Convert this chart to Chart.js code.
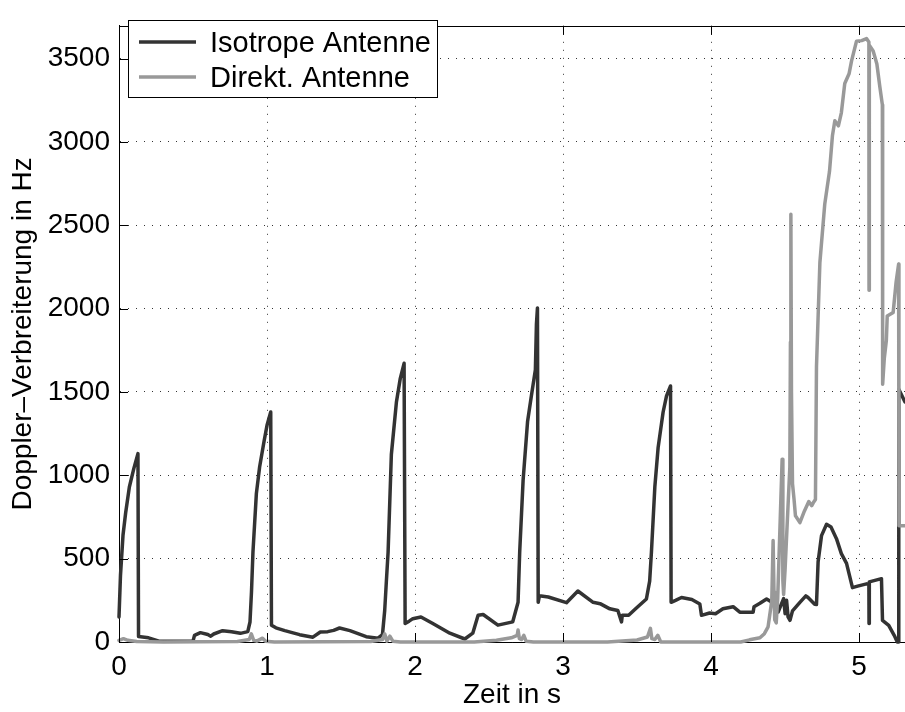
<!DOCTYPE html>
<html>
<head>
<meta charset="utf-8">
<script src="https://cdn.jsdelivr.net/npm/chart.js@4/dist/chart.umd.min.js"></script>
<style>
  html, body { margin: 0; padding: 0; background: #fff; }
  #wrap { width: 905px; height: 712px; }
</style>
</head>
<body>
<div id="wrap"><canvas id="c" width="905" height="712"></canvas></div>
<script>
// ---- data ----
const seriesNames = ['Isotrope Antenne', 'Direkt. Antenne'];
const xTickValues = [0, 1, 2, 3, 4, 5];
const yTickValues = [0, 500, 1000, 1500, 2000, 2500, 3000, 3500];
const xTitle = 'Zeit in s';
const yTitle = 'Doppler\u2013Verbreiterung in Hz';

const isoT = [0, 0.01, 0.027, 0.045, 0.07, 0.1, 0.128, 0.132, 0.2, 0.27, 0.5, 0.51, 0.55, 0.6, 0.62, 0.64, 0.7, 0.76, 0.82, 0.87, 0.885, 0.895, 0.905, 0.928, 0.95, 0.98, 1.0, 1.025, 1.03,
  1.06, 1.12, 1.22, 1.31, 1.36, 1.41, 1.45, 1.49, 1.56, 1.67, 1.75, 1.78, 1.795, 1.806, 1.818, 1.84, 1.874, 1.9, 1.926, 1.933,
  1.96, 1.985, 2.04, 2.12, 2.235, 2.336, 2.39, 2.426, 2.46, 2.56, 2.66, 2.696, 2.707, 2.73, 2.76, 2.786, 2.813, 2.82, 2.827, 2.832,
  2.84, 2.9, 3.023, 3.1, 3.203, 3.25, 3.316, 3.37, 3.395, 3.4, 3.443, 3.49, 3.563, 3.585, 3.597, 3.62, 3.642, 3.676, 3.699, 3.726, 3.73,
  3.76, 3.8, 3.87, 3.924, 3.935, 3.99, 4.03, 4.08, 4.149, 4.194, 4.284, 4.29, 4.33, 4.375, 4.4, 4.42, 4.453, 4.49, 4.5, 4.51, 4.52, 4.533, 4.55, 4.6, 4.64, 4.655, 4.70, 4.712,
  4.723, 4.746, 4.78, 4.81, 4.847, 4.88, 4.915, 4.955, 4.99, 5.05, 5.066, 5.067, 5.069, 5.151, 5.158, 5.2, 5.237, 5.258, 5.266, 5.268, 5.31];
const isoV = [150, 400, 640, 775, 930, 1040, 1130, 33, 25, 5, 5, 40, 56, 45, 35, 48, 68, 62, 52, 62, 120, 300, 540, 890, 1050, 1204, 1300, 1380, 101,
  85, 68, 44, 29, 60, 62, 70, 84, 68, 32, 23, 45, 189, 360, 540, 1125, 1438, 1580, 1672, 111,
  125, 140, 150, 111, 53, 18, 53, 160, 165, 101, 121, 238, 540, 970, 1321, 1477, 1633, 1906, 2004, 238,
  277, 270, 236, 306, 238, 230, 199, 189, 121, 160, 160, 199, 258, 365, 540, 931, 1165, 1380, 1477, 1536, 238,
  250, 267, 255, 228, 160, 174, 170, 199, 212, 179, 179, 212, 232, 258, 245, 225, 180, 260, 170, 250, 150, 130, 187, 238, 277, 267, 226, 225,
  482, 638, 706, 690, 620, 530, 472, 326, 335, 349, 345, 111, 361, 380, 130, 100, 40, 0, 0, 1516, 1440];

const dirT = [0, 0.03, 0.06, 0.12, 0.3, 0.8, 0.88, 0.894, 0.91, 0.93, 0.97, 0.99, 1.05, 1.7, 1.78, 1.795, 1.81, 1.83, 1.85, 1.9,
  2.4, 2.55, 2.65, 2.69, 2.696, 2.705, 2.72, 2.735, 2.75, 2.8, 3.3, 3.5, 3.57, 3.59, 3.6, 3.62, 3.64, 3.66,
  4.2, 4.26, 4.33, 4.36, 4.385, 4.41, 4.419, 4.425, 4.43, 4.44, 4.45, 4.48, 4.485, 4.49, 4.5, 4.532, 4.536, 4.539, 4.543, 4.55, 4.56, 4.57, 4.6, 4.63, 4.66, 4.68, 4.69, 4.705,
  4.712, 4.735, 4.768, 4.8, 4.82, 4.836, 4.86, 4.88, 4.903, 4.932, 4.949, 4.982, 5.017, 5.05, 5.066, 5.067, 5.069, 5.095, 5.12, 5.14, 5.157, 5.159,
  5.17, 5.184, 5.19, 5.23, 5.25, 5.267, 5.269, 5.31];
const dirV = [10, 20, 10, 3, 0, 3, 15, 49, 10, 5, 23, 5, 0, 3, 15, 49, 5, 35, 5, 0,
  0, 10, 25, 40, 72, 20, 15, 40, 5, 0, 0, 12, 30, 82, 20, 15, 40, 0,
  0, 13, 25, 50, 91, 248, 609, 300, 134, 115, 260, 1097, 365, 285, 437, 1050, 1800, 2566, 1500, 950, 860, 757, 716, 785, 843, 818, 835, 855,
  1653, 2277, 2628, 2824, 3039, 3127, 3097, 3175, 3351, 3409, 3487, 3604, 3608, 3620, 3600, 2111, 3580, 3546, 3468, 3331, 3224, 1547,
  1700, 1809, 1956, 1977, 2160, 2268, 697, 697];

const X_MIN = 0, X_MAX = 5.31, Y_MIN = 0, Y_MAX = 3697;

const toPts = (xs, ys) => xs.map((x, i) => ({x: x, y: ys[i]}));
const FONT = '"Liberation Sans", Arial, Helvetica, sans-serif';

// inner ticks, top border and legend (MATLAB style)
const matlabDecor = {
  id: 'matlabDecor',
  afterDatasetsDraw(chart) {
    const ctx = chart.ctx;
    const a = chart.chartArea;
    const xs = chart.scales.x, ys = chart.scales.y;
    ctx.save();
    ctx.strokeStyle = '#000';
    ctx.lineWidth = 1;
    ctx.beginPath();
    ctx.moveTo(a.left, Math.round(a.top) + 0.5);
    ctx.lineTo(a.right, Math.round(a.top) + 0.5);
    const tl = 9;
    xTickValues.forEach(v => {
      const p = Math.round(xs.getPixelForValue(v)) + 0.5;
      ctx.moveTo(p, a.bottom); ctx.lineTo(p, a.bottom - tl);
      ctx.moveTo(p, a.top); ctx.lineTo(p, a.top + tl);
    });
    yTickValues.forEach(v => {
      const p = Math.round(ys.getPixelForValue(v)) + 0.5;
      ctx.moveTo(a.left, p); ctx.lineTo(a.left + tl, p);
    });
    ctx.stroke();

    const bx = 128.5, by = 20.5, bw = 309, bh = 77;
    ctx.fillStyle = '#fff';
    ctx.fillRect(bx, by, bw, bh);
    ctx.strokeRect(bx, by, bw, bh);
    const rows = [42, 77];
    chart.data.datasets.forEach((ds, i) => {
      const yy = rows[i];
      ctx.strokeStyle = ds.borderColor;
      ctx.lineWidth = 3.5;
      ctx.beginPath();
      ctx.moveTo(139, yy); ctx.lineTo(196, yy);
      ctx.stroke();
      ctx.fillStyle = '#000';
      ctx.font = '29px ' + FONT;
      ctx.textBaseline = 'alphabetic';
      ctx.textAlign = 'left';
      ctx.fillText(ds.label, 210, yy + 10);
    });
    ctx.restore();
  }
};

new Chart(document.getElementById('c'), {
  type: 'line',
  data: {
    datasets: [
      { label: seriesNames[0], data: toPts(isoT, isoV), borderColor: '#333333', borderWidth: 3.5,
        pointRadius: 0, tension: 0, fill: false, order: 1, borderJoinStyle: 'round', borderCapStyle: 'round', clip: false },
      { label: seriesNames[1], data: toPts(dirT, dirV), borderColor: '#999999', borderWidth: 3.5,
        pointRadius: 0, tension: 0, fill: false, order: 0, borderJoinStyle: 'round', borderCapStyle: 'round', clip: false }
    ]
  },
  options: {
    responsive: false,
    animation: false,
    events: [],
    layout: { padding: { top: 11, right: 0, left: 0, bottom: 0 } },
    plugins: { legend: { display: false }, tooltip: { enabled: false } },
    scales: {
      x: {
        type: 'linear', min: X_MIN, max: X_MAX,
        afterBuildTicks: s => { s.ticks = xTickValues.map(v => ({value: v})); },
        afterFit: s => { s.height = 70; },
        ticks: { color: '#000', font: { family: FONT, size: 28 }, padding: 8, maxRotation: 0,
                 callback: v => String(v) },
        grid: { color: 'rgba(0,0,0,0.8)', lineWidth: 1, drawTicks: false },
        border: { display: true, color: '#000', width: 1, dash: [1, 7] },
        title: { display: true, text: xTitle, color: '#000', font: { family: FONT, size: 28 }, padding: { top: 0, bottom: 0 } }
      },
      y: {
        type: 'linear', min: Y_MIN, max: Y_MAX,
        afterBuildTicks: s => { s.ticks = yTickValues.map(v => ({value: v})); },
        afterFit: s => { s.width = 119; },
        ticks: { color: '#000', font: { family: FONT, size: 28 }, padding: 9,
                 callback: v => String(v) },
        grid: { color: 'rgba(0,0,0,0.8)', lineWidth: 1, drawTicks: false },
        border: { display: true, color: '#000', width: 1, dash: [1, 7] },
        title: { display: true, text: yTitle, color: '#000', font: { family: FONT, size: 28 }, padding: { top: 6, bottom: 0 } }
      }
    }
  },
  plugins: [matlabDecor]
});
</script>
</body>
</html>
